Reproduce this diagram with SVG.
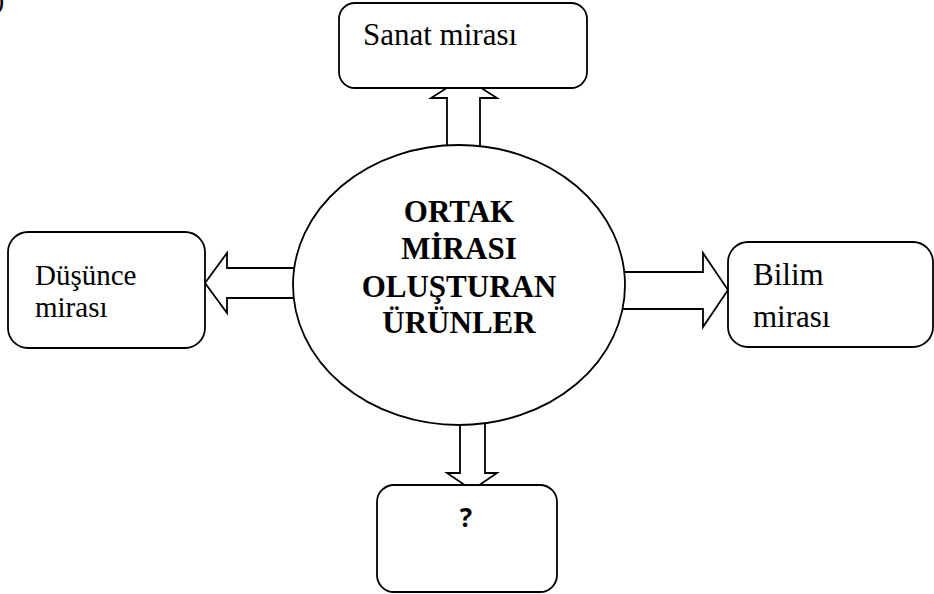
<svg xmlns="http://www.w3.org/2000/svg" width="934" height="594" viewBox="0 0 934 594">
<style>
.shape{fill:#fff;stroke:#000;stroke-width:1.8}
.arrow{fill:#fff;stroke:#000;stroke-width:1.8;stroke-linejoin:miter}
.lbl{font-family:"Liberation Serif","Times New Roman",serif;fill:#000}
.title{font-family:"Liberation Serif","Times New Roman",serif;font-weight:bold;font-size:31px;fill:#000;text-anchor:middle}
</style>
<rect width="934" height="594" fill="#fff"/>
<text class="lbl" x="-5" y="9" font-size="28">)</text>
<g id="connectors">
<polygon class="arrow" points="447,160 447,98 431,98 464,77 497,98 480,98 480,160"/>
<polygon class="arrow" points="300,268 227,268 227,253 205,283 227,313 227,298 300,298"/>
<polygon class="arrow" points="615,272 703,272 703,253 728,290 703,327 703,309 615,309"/>
<polygon class="arrow" points="460,410 460,473 447,473 472,490 497,473 485,473 485,410"/>
</g>
<g id="center">
<ellipse class="shape" cx="459" cy="285" rx="166" ry="140"/>
<text class="title" x="459" y="222">ORTAK</text>
<text class="title" x="459" y="259">MİRASI</text>
<text class="title" x="459" y="297">OLUŞTURAN</text>
<text class="title" x="459" y="333">ÜRÜNLER</text>
</g>
<g id="sanat">
<rect class="shape" x="339" y="3" width="248" height="85" rx="16"/>
<text class="lbl" x="363" y="45" font-size="31">Sanat mirası</text>
</g>
<g id="dusunce">
<rect class="shape" x="8" y="232" width="197" height="116" rx="20"/>
<text class="lbl" x="35" y="285" font-size="29">Düşünce</text>
<text class="lbl" x="35" y="317" font-size="29">mirası</text>
</g>
<g id="bilim">
<rect class="shape" x="728" y="242" width="205" height="105" rx="20"/>
<text class="lbl" x="753" y="285" font-size="31">Bilim</text>
<text class="lbl" x="753" y="327" font-size="31">mirası</text>
</g>
<g id="soru">
<rect class="shape" x="377" y="485" width="180" height="107" rx="17"/>
<text x="466" y="527" font-family="'Open Sans','Liberation Sans',sans-serif" font-weight="bold" font-size="26" text-anchor="middle">?</text>
</g>
</svg>
